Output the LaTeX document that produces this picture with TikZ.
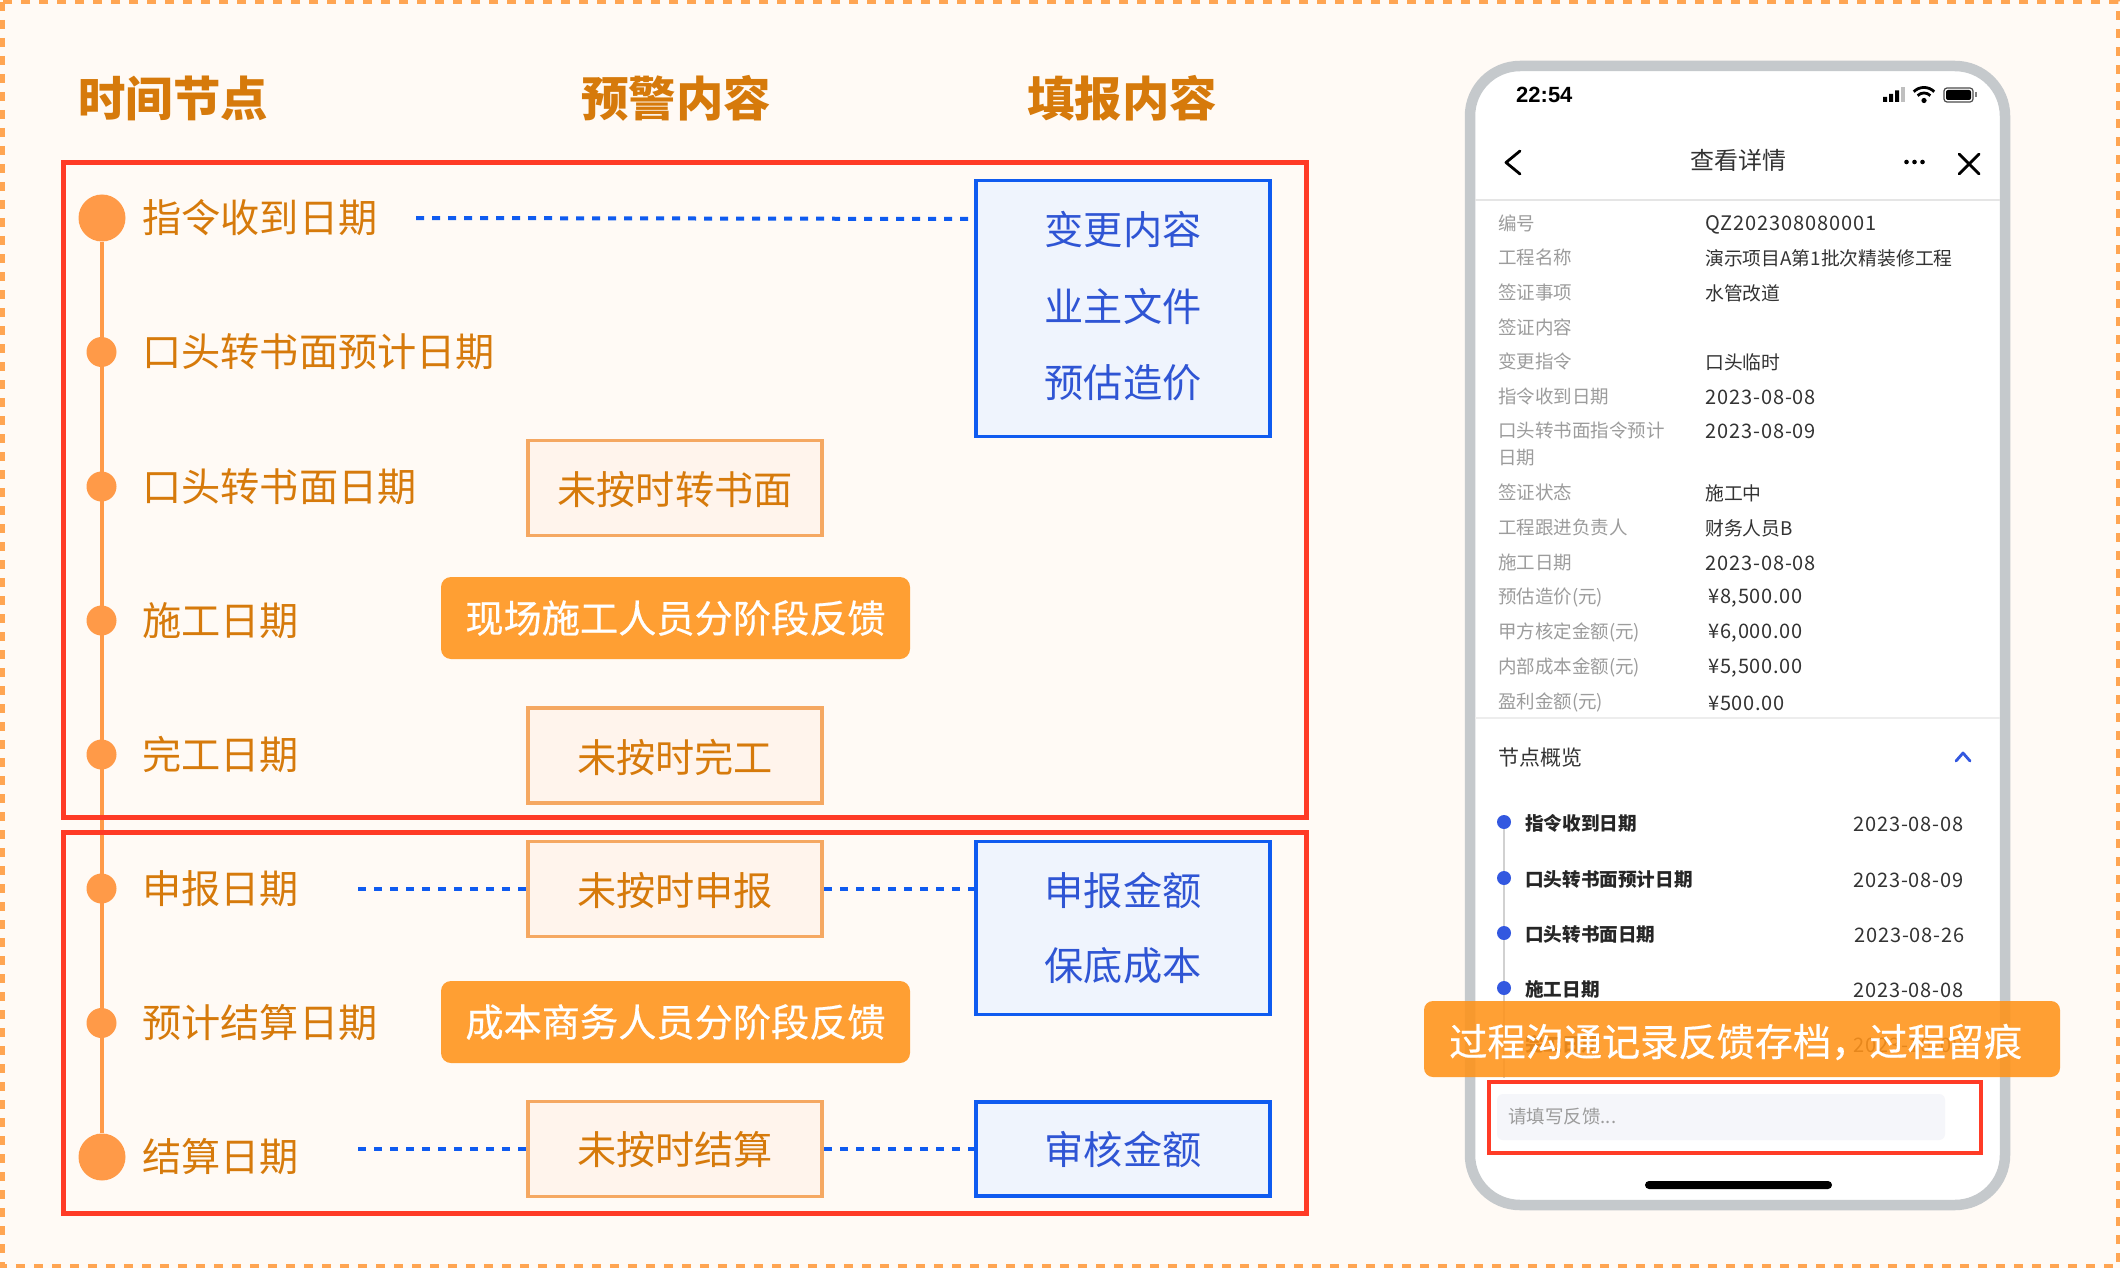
\documentclass[tikz,border=0pt]{standalone}
\usepackage{fontspec}
\setmainfont{Noto Sans CJK SC}
\newfontfamily\latinui{Liberation Sans}
\newcommand{\digsp}{\addfontfeature{LetterSpace=4.5}}
\newcommand{\monsp}{\addfontfeature{LetterSpace=3.5}}
\newcommand{\medw}{\addfontfeature{FakeBold=0.5}}
\usetikzlibrary{calc}
\definecolor{bgc}{HTML}{FFFAF5}
\definecolor{dashc}{HTML}{FFA552}
\definecolor{titlec}{HTML}{D67A0B}
\definecolor{redc}{HTML}{FF3B26}
\definecolor{dotc}{HTML}{FF9A48}
\definecolor{bluec}{HTML}{0F5BF0}
\definecolor{bluetext}{HTML}{2F55D4}
\definecolor{bluefill}{HTML}{EFF4FD}
\definecolor{boxfill}{HTML}{FFF4EC}
\definecolor{boxline}{HTML}{F5A862}
\definecolor{solidc}{HTML}{FF9F33}
\definecolor{bannerc}{HTML}{FF9319}
\definecolor{phonec}{HTML}{C5C9CC}
\definecolor{labelc}{HTML}{9C9C9C}
\definecolor{valuec}{HTML}{333333}
\definecolor{listblue}{HTML}{3358E0}
\definecolor{inputc}{HTML}{F5F6FA}
\tikzset{
  fs/.style={font=\fontsize{#1}{#1}\selectfont},
  coltitle/.style={text=titlec,font=\fontsize{47.4}{47.4}\selectfont\bfseries,inner sep=0pt},
  rowlabel/.style={text=titlec,anchor=west,inner sep=0pt,fs=39.2},
  bigdot/.style={circle,fill=dotc,minimum size=47pt,inner sep=0pt},
  smalldot/.style={circle,fill=dotc,minimum size=30pt,inner sep=0pt},
  redframe/.style={draw=redc,line width=5pt},
  bluebox/.style={draw=bluec,fill=bluefill,line width=3.6pt,minimum width=294.5pt,inner sep=0pt},
  bluetxt/.style={text=bluetext,inner sep=0pt,fs=39.2},
  warnbox/.style={draw=boxline,fill=boxfill,line width=3.6pt,minimum width=294.5pt,minimum height=95pt,inner sep=0pt},
  warntxt/.style={text=titlec,inner sep=0pt,fs=39.2},
  solidbox/.style={fill=solidc,rounded corners=10pt,text=white,minimum width=469pt,minimum height=82pt,inner sep=0pt,font=\fontsize{38.2}{38.2}\selectfont\medw},
  dotline/.style={draw=bluec,line width=4pt,dash pattern=on 8pt off 8pt},
  flabel/.style={anchor=west,inner sep=0pt,text=labelc,fs=18.5},
  fvalue/.style={anchor=west,inner sep=0pt,text=valuec,fs=18.8},
  fnum/.style={anchor=west,inner sep=0pt,text=valuec,font=\fontsize{20}{20}\selectfont\digsp},
  fmon/.style={anchor=west,inner sep=0pt,text=valuec,font=\fontsize{20}{20}\selectfont\monsp},
  lbold/.style={anchor=west,inner sep=0pt,text=black!85,font=\fontsize{18.6}{18.6}\selectfont\bfseries},
  ldate/.style={anchor=east,inner sep=0pt,text=valuec,font=\fontsize{20}{20}\selectfont\digsp},
  ldot/.style={circle,fill=listblue,minimum size=14pt,inner sep=0pt},
}
\begin{document}
\begin{tikzpicture}[x=1pt,y=-1pt]
\useasboundingbox (0,0) rectangle (2120,1268);
\fill[bgc] (0,0) rectangle (2120,1268);
\draw[dashc,line width=5pt,dash pattern=on 9pt off 9pt] (2,2) rectangle (2118,1266);

% titles
\node[coltitle] (t1) at (173,98) {时间节点};
\node[coltitle] (t2) at (676,98) {预警内容};
\node[coltitle] (t3) at (1122,98) {填报内容};

% timeline
\node[bigdot]   (d1) at (102,218) {};
\node[smalldot] (d2) at (101.5,352) {};
\node[smalldot] (d3) at (101.5,486.5) {};
\node[smalldot] (d4) at (101.5,620.5) {};
\node[smalldot] (d5) at (101.5,754.5) {};
\node[smalldot] (d6) at (101.5,888.5) {};
\node[smalldot] (d7) at (101.5,1023) {};
\node[bigdot]   (d8) at (102,1157) {};
\draw[dotc,line width=4pt] (d1) -- (d8);

% red frames
\node[redframe,minimum width=1243pt,minimum height=655pt,inner sep=0pt] (r1) at (684.5,490) {};
\node[redframe,minimum width=1243pt,minimum height=381pt,inner sep=0pt] (r2) at (684.5,1023) {};

% row labels
\node[rowlabel] (l1) at (142,218) {指令收到日期};
\node[rowlabel] (l2) at (142,352) {口头转书面预计日期};
\node[rowlabel] (l3) at (142,486.5) {口头转书面日期};
\node[rowlabel] (l4) at (142,620.5) {施工日期};
\node[rowlabel] (l5) at (142,754.5) {完工日期};
\node[rowlabel] (l6) at (142,888.5) {申报日期};
\node[rowlabel] (l7) at (142,1023) {预计结算日期};
\node[rowlabel] (l8) at (142,1157) {结算日期};

% blue boxes
\node[bluebox,minimum height=256pt] (b1) at (1123,308.5) {};
\node[bluetxt] (b1a) at (1123,229) {变更内容};
\node[bluetxt] (b1b) at (1123,306) {业主文件};
\node[bluetxt] (b1c) at (1123,383) {预估造价};
\node[bluebox,minimum height=173pt] (b2) at (1123,928) {};
\node[bluetxt] (b2a) at (1123,890.5) {申报金额};
\node[bluetxt] (b2b) at (1123,966) {保底成本};
\node[bluebox,minimum height=94pt,text=bluetext,fs=39.2] (b3) at (1123,1149) {审核金额};

% warning boxes
\node[warnbox] (w1) at (675,488) {};
\node[warntxt] (w1t) at (675,489.5) {未按时转书面};
\node[solidbox] (s1) at (675.5,618) {现场施工人员分阶段反馈};
\node[warnbox] (w2) at (675,755.5) {};
\node[warntxt] (w2t) at (675,757) {未按时完工};
\node[warnbox] (w3) at (675,889) {};
\node[warntxt] (w3t) at (675,890.5) {未按时申报};
\node[solidbox] (s2) at (675.5,1022) {成本商务人员分阶段反馈};
\node[warnbox] (w4) at (675,1149) {};
\node[warntxt] (w4t) at (675,1150) {未按时结算};

% dotted connectors
\coordinate (c1) at (416,218);
\coordinate (c6) at (358,889);
\coordinate (c8) at (358,1149);
\draw[dotline] (c1) -- (b1.west |- 0,219);
\draw[dotline] (c6) -- (w3.west);
\draw[dotline] (w3.east) -- (b2.west |- w3.east);
\draw[dotline] (c8) -- (w4.west);
\draw[dotline] (w4.east) -- (b3.west);

% phone
\node[draw=phonec,fill=white,line width=10.5pt,rounded corners=50pt,minimum width=535pt,minimum height=1139pt,inner sep=0pt] (phone) at (1737.5,635.5) {};
\node[anchor=west,inner sep=0pt,font=\latinui\bfseries\fontsize{22}{22}\selectfont] (clock) at (1516,95) {22:54};
% status icons
\fill (1883,97) rectangle (1887,102) (1889,94) rectangle (1893,102) (1895,90.5) rectangle (1899,102);
\fill[black!25] (1901,87) rectangle (1905,102);
\fill (1924,100.5) circle (2.6);
\draw[line width=2.8pt] (1917.6,95.6) arc[start angle=-135,end angle=-45,radius=9];
\draw[line width=2.8pt] (1913.7,91.7) arc[start angle=-135,end angle=-45,radius=14.5];
\draw[black!70,line width=1.2pt,rounded corners=3pt] (1944,88) rectangle (1973,102);
\fill[rounded corners=2pt] (1946,90) rectangle (1971,100);
\fill[black!50] (1975,92.5) rectangle (1976.5,97.5);
% nav
\draw[line width=2.8pt,line cap=round,line join=round] (1520,151) -- (1506,162.5) -- (1520,174);
\node[inner sep=0pt,fs=24,text=black!80] (title) at (1738.5,160) {查看详情};
\fill (1906.5,162) circle (2.3) (1914.5,162) circle (2.3) (1922.5,162) circle (2.3);
\draw[line width=2.8pt,line cap=round] (1959,154) -- (1979,174) (1979,154) -- (1959,174);
\draw[black!10,line width=1.5pt] (1475,200) -- (2000,200);

% fields
\node[flabel] (f1) at (1498,223) {编号};
\node[fnum] (v1) at (1705,224.5) {QZ202308080001};
\node[flabel] (f2) at (1498,257) {工程名称};
\node[fvalue] (v2) at (1705,258) {演示项目A第1批次精装修工程};
\node[flabel] (f3) at (1498,292) {签证事项};
\node[fvalue] (v3) at (1705,293) {水管改道};
\node[flabel] (f4) at (1498,327) {签证内容};
\node[flabel] (f5) at (1498,361) {变更指令};
\node[fvalue] (v5) at (1705,362) {口头临时};
\node[flabel] (f6) at (1498,396) {指令收到日期};
\node[fnum] (v6) at (1705,397) {2023-08-08};
\node[flabel] (f7) at (1498,430) {口头转书面指令预计};
\node[flabel] (f7b) at (1498,458) {日期};
\node[fnum] (v7) at (1705,431) {2023-08-09};
\node[flabel] (f8) at (1498,492) {签证状态};
\node[fvalue] (v8) at (1705,493) {施工中};
\node[flabel] (f9) at (1498,527) {工程跟进负责人};
\node[fvalue] (v9) at (1705,528) {财务人员B};
\node[flabel] (f10) at (1498,562) {施工日期};
\node[fnum] (v10) at (1705,563) {2023-08-08};
\node[flabel] (f11) at (1498,597.5) {预估造价(元)};
\node[fmon] (v11) at (1708,598) {¥8,500.00};
\node[flabel] (f12) at (1498,632.5) {甲方核定金额(元)};
\node[fmon] (v12) at (1708,633) {¥6,000.00};
\node[flabel] (f13) at (1498,667.5) {内部成本金额(元)};
\node[fmon] (v13) at (1708,668) {¥5,500.00};
\node[flabel] (f14) at (1498,702.5) {盈利金额(元)};
\node[fmon] (v14) at (1708,703) {¥500.00};
\draw[black!7,line width=1.5pt] (1475,718) -- (2000,718);

% overview
\node[anchor=west,inner sep=0pt,fs=21,text=valuec] (ov) at (1498,758) {节点概览};
\draw[listblue,line width=2.8pt,line cap=round,line join=round] (1956,761) -- (1963,753) -- (1970,761);
\coordinate (lstart) at (1504,822);
\coordinate (lend) at (1504,1078);
\draw[black!18,line width=1.2pt] (lstart) -- (lend);
\node[ldot] (p1) at (1504,822) {};
\node[ldot] (p2) at (1504,878) {};
\node[ldot] (p3) at (1504,933) {};
\node[ldot] (p4) at (1504,988) {};
\node[lbold] (q1) at (1525,823) {指令收到日期};
\node[ldate] (e1) at (1964,824) {2023-08-08};
\node[lbold] (q2) at (1525,879) {口头转书面预计日期};
\node[ldate] (e2) at (1964,880) {2023-08-09};
\node[lbold] (q3) at (1525,934) {口头转书面日期};
\node[ldate] (e3) at (1965,935) {2023-08-26};
\node[lbold] (q4) at (1525,989) {施工日期};
\node[ldate] (e4) at (1964,990) {2023-08-08};
\node[lbold] (q5) at (1525,1044) {完工日期};
\node[ldate] (e5) at (1964,1045) {2023-10-08};

% banner
\node[fill=bannerc,fill opacity=0.88,rounded corners=9pt,minimum width=636pt,minimum height=76pt,inner sep=0pt] (ban) at (1742,1039) {};
\node[anchor=west,inner sep=0pt,text=white,font=\fontsize{38.2}{38.2}\selectfont\medw] (bant) at (1449,1042) {过程沟通记录反馈存档，过程留痕};

% feedback
\node[fill=inputc,rounded corners=6pt,minimum width=448pt,minimum height=46pt,inner sep=0pt] (inp) at (1721,1117) {};
\node[anchor=west,inner sep=0pt,fs=18.5,text=labelc] (ph) at (1508,1116) {请填写反馈...};
\node[draw=redc,line width=4.5pt,minimum width=492pt,minimum height=71pt,inner sep=0pt] (rb) at (1735,1117.5) {};
\node[fill=black,rounded corners=4pt,minimum width=187pt,minimum height=8pt,inner sep=0pt] (home) at (1738.5,1185) {};
\end{tikzpicture}
\end{document}
